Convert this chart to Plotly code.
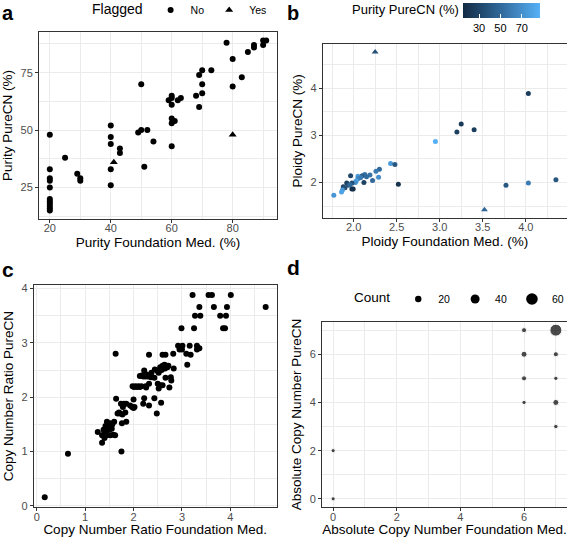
import plotly.graph_objects as go

W, H = 567, 540

# ---------------- data ----------------
# panel a: purity
purity_fm = [20, 20, 20, 20, 20, 20, 20, 20, 20, 20, 20,
             25, 29, 30, 30,
             40, 40, 40, 40, 40, 43, 43,
             49, 50, 50, 52, 51, 54,
             59, 60, 60, 60, 60, 61, 60, 60, 62, 63,
             68, 69, 69, 70, 70, 70, 73,
             78, 80, 80, 83, 85, 87, 87, 90, 91, 90]
purity_pc = [48, 33, 29, 28, 25, 20, 19, 18, 17, 16, 15,
             38, 31, 29, 28,
             52, 47, 44, 33, 26, 42, 40,
             49, 50, 70, 50, 34, 45,
             63, 65, 64, 61, 55, 54, 53, 43, 63, 64,
             65, 60, 74, 76, 70, 66, 76,
             88, 81, 69, 73, 84, 86, 87, 89, 89, 87]
purity_flag_fm = [41, 80]
purity_flag_pc = [36, 48]

# panel b: ploidy (colour = purity PureCN)
ploidy_fm = [4.03, 3.25, 3.20, 3.40, 2.95, 2.43, 2.48, 2.30, 2.26, 2.29,
             2.22, 2.52, 2.19, 2.13, 2.10, 2.12, 2.05, 2.05, 2.03, 2.02,
             1.965, 1.98, 1.98, 1.995, 1.92, 1.94, 1.96, 1.88, 1.90, 1.87,
             1.86, 1.77, 3.77, 4.03, 4.35, 2.08, 2.15]
ploidy_pc = [3.89, 3.24, 3.07, 3.12, 2.87, 2.40, 2.38, 2.28, 2.24, 2.11,
             2.04, 1.96, 2.16, 2.17, 2.14, 2.00, 2.13, 2.08, 2.03, 2.00,
             2.14, 1.99, 1.86, 1.86, 1.99, 1.94, 1.95, 1.91, 1.89, 1.84,
             1.80, 1.73, 1.94, 1.99, 2.06, 2.10, 2.12]
ploidy_purity = [25, 24, 27, 26, 86, 75, 40, 50, 60, 70,
                 50, 20, 55, 55, 45, 28, 76, 65, 80, 70,
                 30, 35, 20, 18, 25, 40, 50, 30, 35, 75,
                 80, 73, 40, 60, 40, 60, 52]
ploidy_flag_fm = [2.25, 3.52]
ploidy_flag_pc = [4.77, 1.42]
ploidy_flag_purity = [36, 48]

# panel c: copy number ratio
cnr_fm = [3.22, 3.55, 3.62, 4.01, 4.73, 3.36, 3.66, 3.93, 3.27, 3.38, 3.79, 3.91,
          2.99, 3.25, 3.85, 3.89, 2.92, 3.01, 3.16, 3.31, 2.95, 3.00, 3.31, 3.36,
          3.09, 3.18, 3.11, 2.82, 2.60, 2.66, 2.32, 1.63,
          2.60, 2.64, 2.68, 2.72, 2.55, 2.65, 2.70, 2.58, 2.52, 2.83, 2.77, 2.78,
          2.44, 2.50, 2.22, 2.13, 2.17, 2.20, 2.25, 2.30, 2.36, 2.43, 2.37, 2.27,
          2.50, 2.55, 2.60, 2.66, 2.52, 2.74, 2.57, 2.48, 2.43, 2.32, 2.22, 2.20,
          2.26, 2.32, 1.98, 2.01, 2.04, 2.07, 2.10, 2.13, 2.16, 2.25, 2.00, 1.64,
          1.93, 1.97, 2.02, 2.00, 1.74, 1.80, 1.85, 1.78, 1.67, 1.72, 1.77, 1.83,
          1.70, 1.85, 1.76, 1.75,
          1.45, 1.52, 1.50, 1.42, 1.48, 1.56, 1.60, 1.38, 1.44, 1.50, 1.55, 1.40,
          1.45, 1.52, 1.58, 1.62, 1.35, 1.26, 1.35, 1.40, 0.645, 0.165]
cnr_pc = [3.88, 3.88, 3.88, 3.88, 3.66, 3.66, 3.66, 3.66, 3.50, 3.50, 3.50, 3.50,
          3.27, 3.27, 3.27, 3.27, 2.95, 2.95, 2.95, 2.95, 2.88, 2.88, 2.88, 2.90,
          2.80, 2.78, 2.60, 2.80, 2.78, 2.78, 2.78, 2.80,
          2.58, 2.60, 2.58, 2.58, 2.55, 2.53, 2.55, 2.50, 2.45, 2.53, 2.37, 2.31,
          2.51, 2.48, 2.49, 2.39, 2.40, 2.38, 2.38, 2.38, 2.37, 2.36, 2.45, 2.42,
          2.25, 2.22, 2.22, 2.36, 2.16, 2.18, 1.90, 1.70, 1.98, 1.85, 1.98, 1.88,
          2.18, 2.25, 2.20, 2.19, 2.20, 2.19, 2.20, 2.19, 2.20, 2.20, 1.96, 1.97,
          1.85, 1.82, 1.82, 1.80, 1.88, 1.88, 1.88, 1.82, 1.70, 1.70, 1.68, 1.72,
          1.72, 1.55, 1.52, 1.00,
          1.55, 1.52, 1.48, 1.47, 1.44, 1.50, 1.55, 1.40, 1.38, 1.40, 1.42, 1.33,
          1.30, 1.30, 1.31, 1.30, 1.30, 1.36, 1.16, 1.25, 0.96, 0.16]

# panel d: absolute copy number (counts)
acn_fm = [0, 0, 6, 6, 6, 6, 7, 7, 7, 7, 7]
acn_pc = [0, 2, 4, 5, 6, 7, 3, 4, 5, 6, 7]
acn_count = [3, 3, 4, 10, 17, 10, 5, 17, 4, 10, 63]
count_legend = [20, 40, 60]


def size_of(c):
    return 3.8 + 0.13 * c


FONT = "Liberation Sans, Arial, Helvetica, sans-serif"
GRID = "#EBEBEB"
TICKC = "#4D4D4D"
LOW, HIGH = "#132B43", "#56B1F7"


def px_x(p):
    return p / W


def px_y(p):
    return 1 - p / H


fig = go.Figure()

# ---- panel a ----
fig.add_trace(go.Scatter(x=purity_fm, y=purity_pc, mode="markers", name="No",
                         marker=dict(color="black", size=6, symbol="circle"),
                         xaxis="x", yaxis="y", legend="legend", showlegend=True))
fig.add_trace(go.Scatter(x=purity_flag_fm, y=purity_flag_pc, mode="markers", name="Yes",
                         marker=dict(color="black", size=7, symbol="triangle-up"),
                         xaxis="x", yaxis="y", legend="legend", showlegend=True))

# ---- panel b ----
cmin, cmax = 15, 87
cscale = [[0, LOW], [0.5, "#316A9C"], [1, HIGH]]
fig.add_trace(go.Scatter(x=ploidy_fm, y=ploidy_pc, mode="markers", showlegend=False,
                         marker=dict(color=ploidy_purity, size=5, symbol="circle",
                                     colorscale=cscale, cmin=cmin, cmax=cmax,
                                     showscale=True,
                                     colorbar=dict(orientation="h", x=px_x(501.5), xanchor="center",
                                                   y=px_y(2.5), yanchor="top",
                                                   lenmode="pixels", len=77,
                                                   thicknessmode="pixels", thickness=15,
                                                   tickvals=[30, 50, 70], ticks="inside",
                                                   tickcolor="white", ticklen=4,
                                                   tickfont=dict(family=FONT, size=11, color="black"),
                                                   outlinewidth=0, xpad=0, ypad=0)),
                         xaxis="x2", yaxis="y2"))
fig.add_trace(go.Scatter(x=ploidy_flag_fm, y=ploidy_flag_pc, mode="markers", showlegend=False,
                         marker=dict(color=ploidy_flag_purity, size=6, symbol="triangle-up",
                                     colorscale=cscale, cmin=cmin, cmax=cmax, showscale=False),
                         xaxis="x2", yaxis="y2"))

# ---- panel c ----
fig.add_trace(go.Scatter(x=cnr_fm, y=cnr_pc, mode="markers", showlegend=False,
                         marker=dict(color="black", size=6, symbol="circle"),
                         xaxis="x3", yaxis="y3"))

# ---- panel d ----
fig.add_trace(go.Scatter(x=acn_fm, y=acn_pc, mode="markers", showlegend=False,
                         marker=dict(color="black", size=[size_of(c) for c in acn_count],
                                     symbol="circle"),
                         xaxis="x4", yaxis="y4"))
for c in count_legend:
    fig.add_trace(go.Scatter(x=[None], y=[None], mode="markers", name=str(c),
                             marker=dict(color="black", size=size_of(c)),
                             xaxis="x4", yaxis="y4", legend="legend2", showlegend=True))


def axis(domain, rng, dtick, tick0, minor_dtick, anchor, title, standoff,
         fmt=None, label_shift=0):
    d = dict(domain=domain, range=rng, dtick=dtick, tick0=tick0, anchor=anchor,
             showgrid=True, gridcolor=GRID, gridwidth=1,
             minor=dict(dtick=minor_dtick, tick0=tick0, showgrid=True,
                        gridcolor=GRID, gridwidth=0.5),
             zeroline=False, showline=True, mirror=True, linecolor="#333333",
             linewidth=1, ticks="outside", ticklen=3, tickcolor="#333333",
             tickfont=dict(family=FONT, size=11, color=TICKC),
             ticklabelstandoff=label_shift,
             title=dict(text=title, font=dict(family=FONT, size=13.5, color="black"),
                        standoff=standoff),
             automargin=False, fixedrange=True)
    if fmt:
        d["tickformat"] = fmt
    return d


fig.update_layout(
    width=W, height=H, margin=dict(l=0, r=0, t=0, b=0, autoexpand=False),
    paper_bgcolor="white", plot_bgcolor="white",
    font=dict(family=FONT, color="black"),
    xaxis=axis([px_x(39), px_x(277)], [16.45, 94.55], 20, 0, 10, "y",
               "Purity Foundation Med. (%)", 4, label_shift=-4),
    yaxis=axis([px_y(219), px_y(32)], [11.3, 92.7], 25, 0, 12.5, "x",
               "Purity PureCN (%)", 4),
    xaxis2=axis([px_x(322.7), 1.0], [1.641, 4.479], 0.5, 0, 0.25, "y2",
                "Ploidy Foundation Med. (%)", 4, ".1f", label_shift=-4),
    yaxis2=axis([px_y(217.7), px_y(44)], [1.2525, 4.9375], 1, 0, 0.5, "x2",
                "Ploidy PureCN (%)", 4),
    xaxis3=axis([px_x(33.7), px_x(276.7)], [-0.063, 4.958], 1, 0, 0.5, "y3",
                "Copy Number Ratio Foundation Med.", 0, label_shift=-4),
    yaxis3=axis([px_y(507.3), px_y(285)], [-0.026, 4.066], 1, 0, 0.5, "x3",
                "Copy Number Ratio PureCN", 4),
    xaxis4=axis([px_x(322), 1.0], [-0.35, 7.35], 2, 0, 1, "y4",
                "Absolute Copy Number Foundation Med.", 0, label_shift=-4),
    yaxis4=axis([px_y(507.3), px_y(321.7)], [-0.35, 7.35], 2, 0, 1, "x4",
                "Absolute Copy Number PureCN", 4),
    legend=dict(orientation="h", x=px_x(90), xanchor="left", y=px_y(10), yanchor="middle",
                title=dict(text="Flagged", side="left",
                           font=dict(family=FONT, size=14, color="black")),
                font=dict(family=FONT, size=10.5, color="black"),
                itemsizing="trace", bgcolor="rgba(0,0,0,0)", itemwidth=30),
    legend2=dict(orientation="h", x=px_x(352), xanchor="left", y=px_y(299), yanchor="middle",
                 title=dict(text="Count", side="left",
                            font=dict(family=FONT, size=13.5, color="black")),
                 font=dict(family=FONT, size=10.5, color="black"),
                 itemsizing="trace", bgcolor="rgba(0,0,0,0)", itemwidth=30),
    showlegend=True,
)

annots = [
    dict(text="<b>a</b>", x=px_x(0), y=px_y(0), xanchor="left", yanchor="top", size=20),
    dict(text="<b>b</b>", x=px_x(285), y=px_y(0), xanchor="left", yanchor="top", size=20),
    dict(text="<b>c</b>", x=px_x(0), y=px_y(269), xanchor="left", yanchor="middle", size=21),
    dict(text="<b>d</b>", x=px_x(285), y=px_y(268), xanchor="left", yanchor="middle", size=21),
    dict(text="Purity PureCN (%)", x=px_x(405), y=px_y(10), xanchor="center", yanchor="middle", size=13),
]
for a in annots:
    fig.add_annotation(text=a["text"], x=a["x"], y=a["y"], xref="paper", yref="paper",
                       xanchor=a["xanchor"], yanchor=a["yanchor"], showarrow=False,
                       font=dict(family=FONT, size=a["size"], color="black"))

# the page's default 8px body margin would shift the 567x540 figure; remove it
fig.write_html("out.html", config={"displayModeBar": False},
               post_script="document.body.style.margin='0';")
